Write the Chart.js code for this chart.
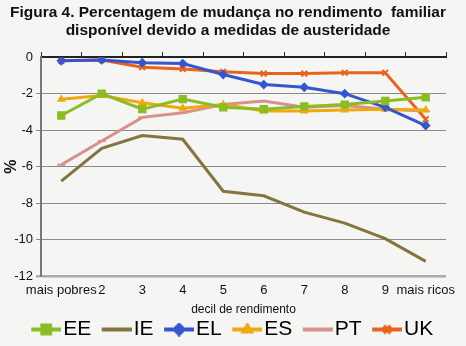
<!DOCTYPE html>
<html lang="en">
<head>
<meta charset="UTF-8">
<title>Figura 4</title>
<script src="https://cdn.jsdelivr.net/npm/chart.js"></script>
<style>
  html, body { margin: 0; padding: 0; background: #f5f5f3; }
  #wrap { width: 466px; height: 346px; }
</style>
</head>
<body>
<div id="wrap"><canvas id="chart" width="466" height="346"></canvas></div>
<script>
// decis de rendimento
const deciles = ['mais pobres', '2', '3', '4', '5', '6', '7', '8', '9', 'mais ricos'];
const yTicks = [0, -2, -4, -6, -8, -10, -12];

const ee = [-3.2, -2.0, -2.85, -2.3, -2.75, -2.85, -2.7, -2.6, -2.4, -2.2];
const ie = [-6.8, -5.0, -4.3, -4.5, -7.35, -7.6, -8.5, -9.1, -9.95, -11.2];
const el = [-0.2, -0.15, -0.3, -0.35, -0.95, -1.5, -1.65, -2.0, -2.75, -3.75];
const es = [-2.3, -2.1, -2.5, -2.8, -2.6, -2.95, -2.95, -2.9, -2.85, -2.9];
const pt = [-5.9, -4.6, -3.3, -3.05, -2.6, -2.4, -2.75, -2.65, -2.85, -2.95];
const uk = [-0.2, -0.15, -0.55, -0.65, -0.8, -0.9, -0.9, -0.85, -0.85, -3.4];

const series = [
  { label: 'EE', data: ee, color: '#8cbc24', point: 'rect', r: 4.5 },
  { label: 'IE', data: ie, color: '#85743f', point: 'circle', r: 0 },
  { label: 'EL', data: el, color: '#3656cc', point: 'rectRot', r: 3.5 },
  { label: 'ES', data: es, color: '#f0a810', point: 'triangle', r: 3 },
  { label: 'PT', data: pt, color: '#d8908a', point: 'line', r: 4 },
  { label: 'UK', data: uk, color: '#e8641e', point: 'crossRot', r: 4 }
];

// legend icon: line with marker, pushed right so it sits close to the text
const ICON_BOX = 30;
function legendIcon(s) {
  const c = document.createElement('canvas');
  c.width = 47; c.height = 14;
  const g = c.getContext('2d');
  g.strokeStyle = s.color; g.fillStyle = s.color; g.lineWidth = 4;
  g.beginPath(); g.moveTo(17, 7); g.lineTo(47, 7); g.stroke();
  if (s.r > 0) {
    Chart.helpers.drawPoint(g, { pointStyle: s.point, radius: s.r + 1, borderWidth: 2 }, 32, 7);
  }
  return c;
}

const bgPlugin = {
  id: 'bg',
  beforeDraw(chart) {
    const ctx = chart.ctx;
    ctx.save();
    ctx.fillStyle = '#f5f5f3';
    ctx.fillRect(0, 0, chart.width, chart.height);
    ctx.restore();
  }
};

new Chart(document.getElementById('chart'), {
  type: 'line',
  data: {
    labels: deciles,
    datasets: series.map(s => ({
      label: s.label,
      data: s.data,
      borderColor: s.color,
      backgroundColor: s.color,
      borderWidth: 3,
      pointStyle: s.point,
      pointRadius: s.r,
      pointBorderWidth: 2,
      tension: 0
    }))
  },
  options: {
    responsive: false,
    animation: false,
    layout: { padding: { left: 10, right: 20, top: 0, bottom: -4 } },
    plugins: {
      title: {
        display: true,
        text: ['Figura 4. Percentagem de mudança no rendimento  familiar', 'disponível devido a medidas de austeridade'],
        color: '#111',
        font: { family: 'Liberation Sans, Arial', size: 15.5, weight: 'bold' },
        padding: { top: 3, bottom: 12 },
        lineHeight: 1.25
      },
      legend: {
        position: 'bottom',
        labels: {
          color: '#111',
          font: { family: 'Liberation Sans, Arial', size: 21, lineHeight: 1 },
          usePointStyle: true,
          pointStyleWidth: ICON_BOX,
          padding: 2,
          generateLabels(chart) {
            return series.map((s, i) => ({
              text: s.label,
              pointStyle: legendIcon(s),
              fillStyle: s.color,
              strokeStyle: s.color,
              lineWidth: 0,
              datasetIndex: i,
              hidden: false
            }));
          }
        }
      },
      tooltip: { enabled: false }
    },
    scales: {
      x: {
        type: 'category',
        position: 'bottom',
        offset: true,
        grid: { display: false, drawTicks: false },
        border: { display: false },
        ticks: { color: '#111', font: { family: 'Liberation Sans, Arial', size: 13 }, maxRotation: 0, autoSkip: false, padding: 7 },
        title: { display: true, text: 'decil de rendimento', color: '#111', font: { family: 'Liberation Sans, Arial', size: 12 }, padding: { top: 0, bottom: 0 } },
        afterFit(axis) { axis.paddingLeft = 0; axis.paddingRight = 0; axis.height = 41; }
      },
      x2: {
        type: 'category',
        position: 'top',
        labels: deciles,
        offset: true,
        grid: { offset: true, drawOnChartArea: false, tickLength: 5, color: '#222' },
        border: { display: true, color: '#222', width: 2 },
        ticks: { display: false },
        afterFit(axis) { axis.paddingLeft = 0; axis.paddingRight = 0; }
      },
      y: {
        min: -12,
        max: 0,
        afterBuildTicks(axis) { axis.ticks = yTicks.map(v => ({ value: v })); },
        afterFit(axis) { axis.width = 31; },
        grid: {
          color: ctx => ctx.tick && ctx.tick.value === 0 ? 'rgba(0,0,0,0)' : (ctx.tick && ctx.tick.value === -12 ? '#aaa' : '#8a8a8a'),
          lineWidth: ctx => ctx.tick && ctx.tick.value === -12 ? 2.5 : 1,
          tickLength: 5
        },
        border: { display: true, color: '#777', width: 2 },
        ticks: { color: '#111', font: { family: 'Liberation Sans, Arial', size: 13 }, padding: 3 },
        title: { display: true, text: '%', color: '#111', font: { family: 'Liberation Sans, Arial', size: 16, weight: 'bold' }, padding: { top: -8, bottom: 0 } }
      }
    }
  },
  plugins: [bgPlugin]
});
</script>
</body>
</html>
